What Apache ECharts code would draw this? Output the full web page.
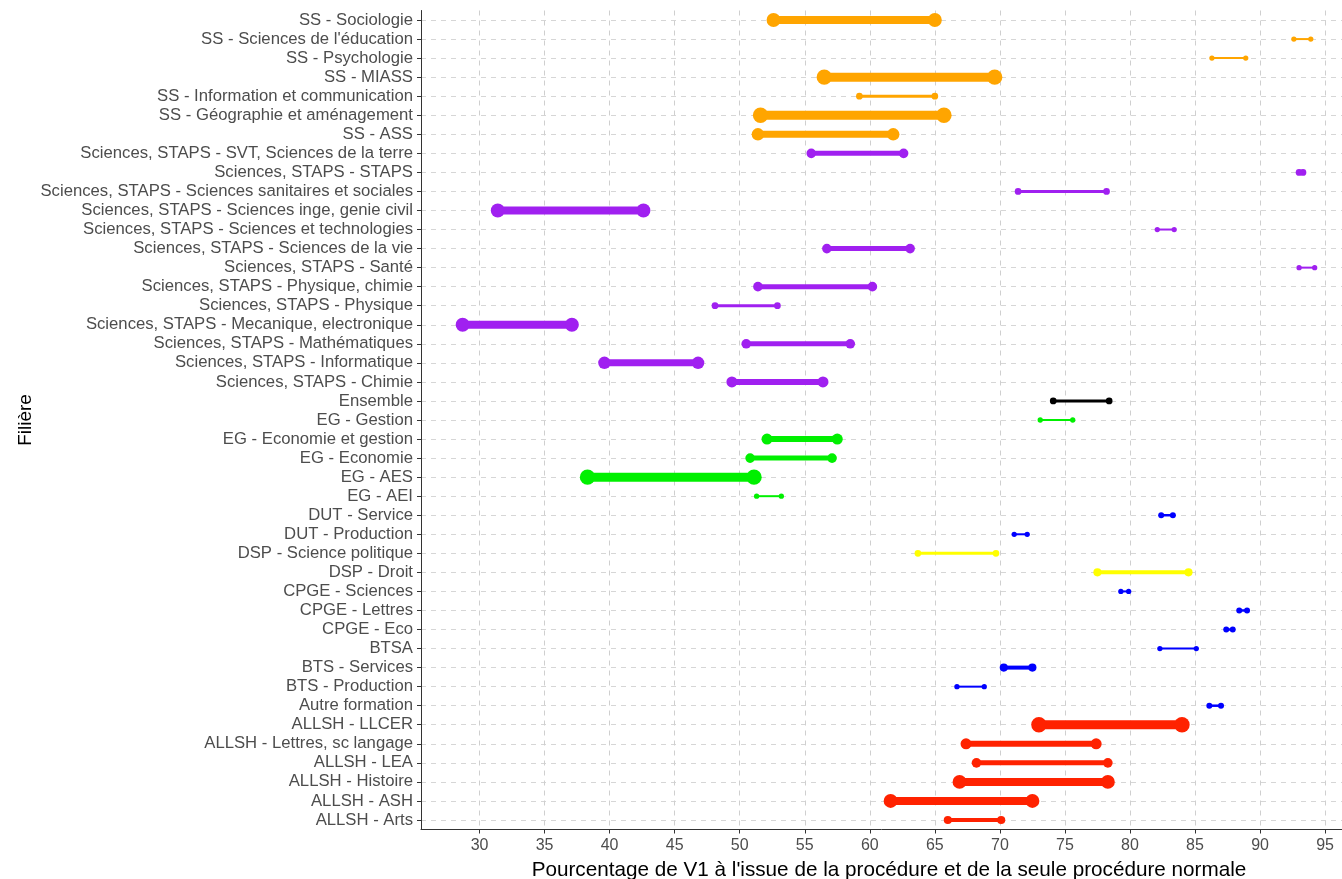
<!DOCTYPE html>
<html><head><meta charset="utf-8">
<script src="https://cdn.jsdelivr.net/npm/echarts@6/dist/echarts.min.js"></script>
<style>html,body{margin:0;padding:0;background:#fff}#c{width:1342px;height:879px}</style>
</head><body><div id="c"></div>
<script>
const categories = [
 "SS - Sociologie","SS - Sciences de l'éducation","SS - Psychologie","SS - MIASS",
 "SS - Information et communication","SS - Géographie et aménagement","SS - ASS",
 "Sciences, STAPS - SVT, Sciences de la terre","Sciences, STAPS - STAPS",
 "Sciences, STAPS - Sciences sanitaires et sociales","Sciences, STAPS - Sciences inge, genie civil",
 "Sciences, STAPS - Sciences et technologies","Sciences, STAPS - Sciences de la vie",
 "Sciences, STAPS - Santé","Sciences, STAPS - Physique, chimie","Sciences, STAPS - Physique",
 "Sciences, STAPS - Mecanique, electronique","Sciences, STAPS - Mathématiques",
 "Sciences, STAPS - Informatique","Sciences, STAPS - Chimie","Ensemble","EG - Gestion",
 "EG - Economie et gestion","EG - Economie","EG - AES","EG - AEI","DUT - Service",
 "DUT - Production","DSP - Science politique","DSP - Droit","CPGE - Sciences","CPGE - Lettres",
 "CPGE - Eco","BTSA","BTS - Services","BTS - Production","Autre formation","ALLSH - LLCER",
 "ALLSH - Lettres, sc langage","ALLSH - LEA","ALLSH - Histoire","ALLSH - ASH","ALLSH - Arts"
];
const startValues = [
 52.6, 92.6, 86.3, 56.5, 59.2, 51.6, 51.4, 55.5, 93.0, 71.4, 31.4, 82.1, 56.7, 93.0, 51.4,
 48.1, 28.7, 50.5, 39.6, 49.4, 74.1, 73.1, 52.1, 50.8, 38.3, 51.3, 82.4, 71.1, 63.7, 77.5,
 79.3, 88.4, 87.4, 82.3, 70.3, 66.7, 86.1, 73.0, 67.4, 68.2, 66.9, 61.6, 66.0
];
const endValues = [
 65.0, 93.9, 88.9, 69.6, 65.0, 65.7, 61.8, 62.6, 93.3, 78.2, 42.6, 83.4, 63.1, 94.2, 60.2,
 52.9, 37.1, 58.5, 46.8, 56.4, 78.4, 75.6, 57.5, 57.1, 51.1, 53.2, 83.3, 72.1, 69.7, 84.5,
 79.9, 89.0, 87.9, 85.1, 72.5, 68.8, 87.0, 84.0, 77.4, 78.3, 78.3, 72.5, 70.1
];
// relative weight (size aesthetic) of each filière
const weights = [
 8, 2, 2, 9, 3, 9, 7, 5, 3, 3, 8, 2, 5, 2, 5,
 3, 8, 5, 7, 6, 3, 2, 6, 5, 9, 2, 2.5, 2, 3, 4,
 2, 2.5, 2.5, 2, 4, 2, 2.5, 9, 6, 5, 8, 8, 4
];
const groups = [
 "SS","SS","SS","SS","SS","SS","SS",
 "Sci","Sci","Sci","Sci","Sci","Sci","Sci","Sci","Sci","Sci","Sci","Sci","Sci",
 "Ens","EG","EG","EG","EG","EG","Blue","Blue","DSP","DSP","Blue","Blue","Blue","Blue","Blue","Blue","Blue",
 "ALLSH","ALLSH","ALLSH","ALLSH","ALLSH","ALLSH"
];
const xTicks = [30,35,40,45,50,55,60,65,70,75,80,85,90,95];

const groupColor = {SS:'#FFA500', Sci:'#A020F0', Ens:'#000000', EG:'#00F000', Blue:'#0000FF', DSP:'#FFFF00', ALLSH:'#FF2200'};

const data = categories.map((c, i) => ({
  value: [startValues[i], endValues[i], i, weights[i]],
  itemStyle: {color: groupColor[groups[i]]}
}));

const FONT = 'Liberation Sans, Arial, Helvetica, sans-serif';
const chart = echarts.init(document.getElementById('c'));
chart.setOption({
  backgroundColor: '#fff',
  animation: false,
  grid: {left: 421, right: 0, top: 10.5, bottom: 49.5, containLabel: false, outerBoundsMode: 'none'},
  xAxis: {
    type: 'value', min: 25.5, max: 96.3,
    name: "Pourcentage de V1 à l'issue de la procédure et de la seule procédure normale",
    nameLocation: 'middle', nameGap: 30, nameMoveOverlap: false,
    nameTextStyle: {fontFamily: FONT, fontSize: 20.7, color: '#000', padding: [0, 0, 0, 15]},
    axisLine: {show: true, lineStyle: {color: '#333', width: 1}},
    axisTick: {show: true, length: 4, customValues: xTicks, lineStyle: {color: '#333'}},
    axisLabel: {customValues: xTicks, fontFamily: FONT, fontSize: 16, color: '#4d4d4d', margin: 8},
    splitLine: {show: true, lineStyle: {color: '#cfcfcf', type: [5, 5], width: 1}}
  },
  yAxis: {
    type: 'category', data: categories, inverse: true,
    name: 'Filière', nameLocation: 'middle', nameGap: 386, nameRotate: 90, nameMoveOverlap: false,
    nameTextStyle: {fontFamily: FONT, fontSize: 19, color: '#000'},
    axisLine: {show: true, lineStyle: {color: '#333', width: 1}},
    axisTick: {show: true, length: 4, interval: 0, alignWithLabel: true, lineStyle: {color: '#333'}},
    axisLabel: {interval: 0, fontFamily: FONT, fontSize: 16.7, color: '#4d4d4d', margin: 8},
    splitLine: {show: true, interval: 0, alignWithLabel: true, lineStyle: {color: '#d6d6d6', type: [5, 5], width: 1}}
  },
  series: [{
    type: 'custom',
    encode: {x: [0, 1], y: 2},
    data: data,
    renderItem: function (params, api) {
      const idx = api.value(2);
      const p1 = api.coord([api.value(0), idx]);
      const p2 = api.coord([api.value(1), idx]);
      const w = api.value(3);
      const color = api.visual('color');
      const r = w * 0.72 + 1.2;
      return {
        type: 'group',
        children: [
          {type: 'line', shape: {x1: p1[0], y1: p1[1], x2: p2[0], y2: p2[1]}, style: {stroke: color, lineWidth: w, lineCap: 'butt'}},
          {type: 'circle', shape: {cx: p1[0], cy: p1[1], r: r}, style: {fill: color}},
          {type: 'circle', shape: {cx: p2[0], cy: p2[1], r: r}, style: {fill: color}}
        ]
      };
    }
  }]
});
</script>
</body></html>
